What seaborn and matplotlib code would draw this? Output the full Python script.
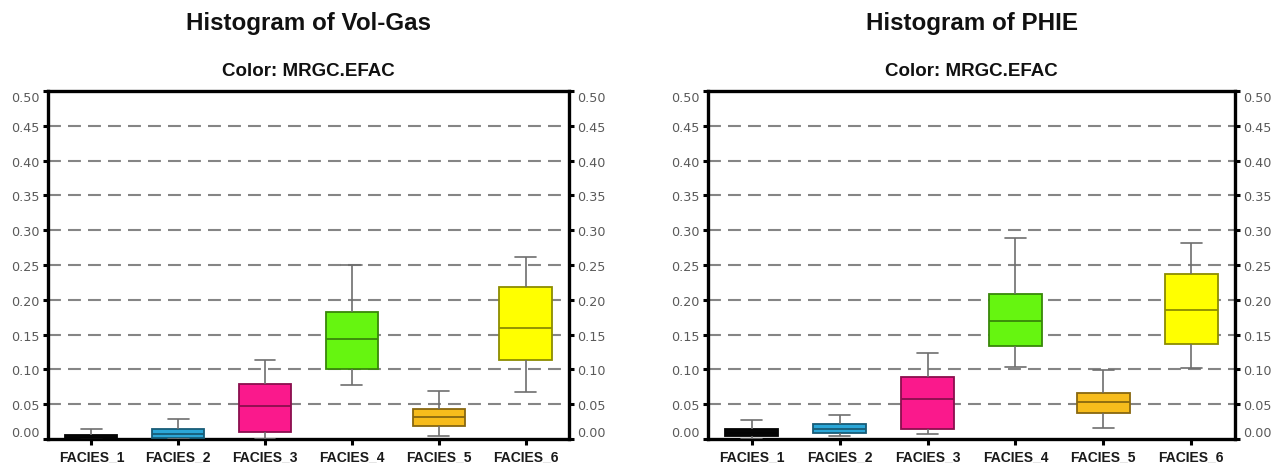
import numpy as np
import pandas as pd
import matplotlib
matplotlib.use("Agg")
import matplotlib.pyplot as plt
import matplotlib.colors as mcolors
import seaborn as sns

# Facies categories and their colours
facies = ["FACIES_1", "FACIES_2", "FACIES_3", "FACIES_4", "FACIES_5", "FACIES_6"]
facies_colors = ["#050505", "#2ba7d8", "#fa198c", "#66f510", "#f7bc1c", "#ffff00"]

# Five-number summaries (min, Q1, median, Q3, max) per facies: Vol-Gas
volgas_min = [0.000, 0.000, 0.000, 0.077, 0.005, 0.068]
volgas_q1 = [0.000, 0.002, 0.010, 0.101, 0.019, 0.113]
volgas_med = [0.002, 0.007, 0.047, 0.144, 0.031, 0.160]
volgas_q3 = [0.006, 0.014, 0.079, 0.183, 0.043, 0.219]
volgas_max = [0.015, 0.029, 0.113, 0.250, 0.069, 0.261]

# Five-number summaries per facies: PHIE
phie_min = [0.000, 0.004, 0.007, 0.103, 0.016, 0.102]
phie_q1 = [0.004, 0.009, 0.014, 0.134, 0.038, 0.136]
phie_med = [0.009, 0.015, 0.057, 0.169, 0.053, 0.185]
phie_q3 = [0.015, 0.022, 0.089, 0.209, 0.066, 0.237]
phie_max = [0.027, 0.035, 0.124, 0.289, 0.099, 0.281]

y_ticks = [0.00, 0.05, 0.10, 0.15, 0.20, 0.25, 0.30, 0.35, 0.40, 0.45, 0.50]
panel_titles = ["Histogram of Vol-Gas", "Histogram of PHIE"]
subtitle = "Color: MRGC.EFAC"

sns.set_theme(style="white")
plt.rcParams["font.family"] = ["Liberation Sans", "DejaVu Sans"]


def summary_frame(mins, q1s, meds, q3s, maxs):
    # Five values per facies reproduce the quartiles exactly (linear percentiles)
    rows = []
    for name, a, b, c, d, e in zip(facies, mins, q1s, meds, q3s, maxs):
        for v in (a, b, c, d, e):
            rows.append({"facies": name, "value": v})
    return pd.DataFrame(rows)


def darker(color, f=0.55):
    r, g, b = mcolors.to_rgb(color)
    return (r * f, g * f, b * f)


fig = plt.figure(figsize=(12.8, 4.64), dpi=100)
ax_left = fig.add_axes([0.0375, 0.0517, 0.407, 0.750])
ax_right = fig.add_axes([0.553, 0.0517, 0.412, 0.750])

datasets = [
    summary_frame(volgas_min, volgas_q1, volgas_med, volgas_q3, volgas_max),
    summary_frame(phie_min, phie_q1, phie_med, phie_q3, phie_max),
]

for ax, df, title in zip([ax_left, ax_right], datasets, panel_titles):
    sns.boxplot(
        data=df, x="facies", y="value", hue="facies", order=facies,
        hue_order=facies, palette=facies_colors, saturation=1, legend=False,
        whis=(0, 100), width=0.6, linewidth=1.2, ax=ax, zorder=3,
    )
    # Per-facies edge and median colours, grey whiskers with short caps
    for cont, col in zip(ax.containers, facies_colors):
        edge = darker(col)
        for b in cont.boxes:
            b.set_edgecolor(edge)
            b.set_linewidth(1.3)
        for m in cont.medians:
            m.set_color(edge)
            m.set_linewidth(1.3)
        for w in cont.whiskers:
            w.set_color("#6e6e6e")
            w.set_linewidth(1.2)
        for c in cont.caps:
            c.set_color("#6e6e6e")
            c.set_linewidth(1.2)
            xs = np.asarray(c.get_xdata(), dtype=float)
            mid = xs.mean()
            c.set_xdata(mid + (xs - mid) * 0.8)

    ax.set_xlim(-0.5, 5.5)
    ax.set_ylim(0, 0.5)
    ax.set_yticks(y_ticks)
    ax.set_yticklabels([f"{t:.2f}" for t in y_ticks])
    ax.set_xlabel("")
    ax.set_ylabel("")

    # Dashed horizontal guides
    for t in y_ticks[1:-1]:
        ax.axhline(t, color="#858585", linewidth=1.5, dashes=(6.2, 3.4), zorder=1)

    for s in ax.spines.values():
        s.set_visible(True)
        s.set_color("black")
        s.set_linewidth(2.4)

    ax.tick_params(axis="y", which="major", left=True, right=True,
                   labelleft=True, labelright=True, direction="out",
                   length=3.5, width=2.2, color="black", labelsize=9.2,
                   labelcolor="#5a5a5a", pad=2.5)
    for lab in ax.get_yticklabels(which="both"):
        lab.set_fontfamily("DejaVu Sans")
    ax.tick_params(axis="x", which="major", bottom=True, direction="out",
                   length=4.5, width=2.2, color="black", labelsize=10,
                   labelcolor="#1a1a1a", pad=3)
    for lab in ax.get_xticklabels():
        lab.set_fontweight("bold")

    cx = (ax.get_position().x0 + ax.get_position().x1) / 2
    fig.text(cx, 0.950, title, ha="center", va="center",
             fontsize=17.4, fontweight="bold", color="#111111")
    fig.text(cx, 0.845, subtitle, ha="center", va="center",
             fontsize=13.5, fontweight="bold", color="#111111")

fig.canvas.draw()
# Keep the end labels inside the frame
for ax in [ax_left, ax_right]:
    for tick in ax.yaxis.get_major_ticks():
        v = tick.get_loc()
        for lab in (tick.label1, tick.label2):
            lab.set_fontfamily("DejaVu Sans")
            if abs(v) < 1e-9:
                lab.set_verticalalignment("bottom")
            elif abs(v - 0.5) < 1e-9:
                lab.set_verticalalignment("top")

fig.savefig("out.png", dpi=100)
